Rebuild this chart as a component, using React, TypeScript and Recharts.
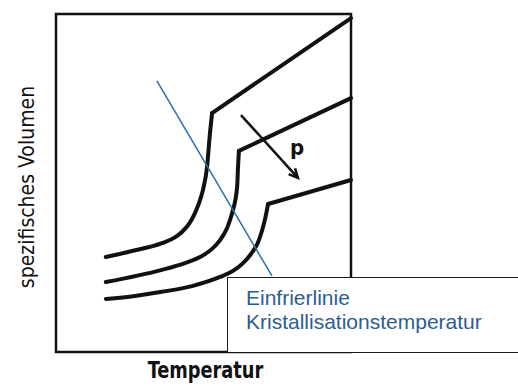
import { Line, LineChart, ReferenceArea, ReferenceDot, ReferenceLine, XAxis, YAxis } from "recharts"

// Temperatur (t) vs. spezifisches Volumen (v), both in arbitrary units 0..100
const upperCurve = [
  { t: 16.9, v: 28.1 },
  { t: 24.4, v: 29.6 },
  { t: 35.9, v: 32.2 },
  { t: 40.3, v: 33.9 },
  { t: 42.7, v: 35.5 },
  { t: 45.1, v: 37.9 },
  { t: 47.1, v: 41.1 },
  { t: 48.5, v: 44.1 },
  { t: 49.8, v: 47.9 },
  { t: 51.2, v: 54.7 },
  { t: 52.2, v: 64.8 },
  { t: 52.9, v: 70.7 },
]
const upperMelt = [
  { t: 52.9, v: 70.7 },
  { t: 100, v: 98.8 },
]

const middleCurve = [
  { t: 16.9, v: 20.7 },
  { t: 35.9, v: 24.3 },
  { t: 43.7, v: 26.3 },
  { t: 48.8, v: 28.1 },
  { t: 52.9, v: 30.5 },
  { t: 55.6, v: 33.1 },
  { t: 58.0, v: 36.7 },
  { t: 59.7, v: 41.1 },
  { t: 61.4, v: 48.8 },
  { t: 61.7, v: 54.7 },
  { t: 62.0, v: 59.5 },
]
const middleMelt = [
  { t: 62.0, v: 59.5 },
  { t: 100, v: 75.1 },
]

const lowerCurve = [
  { t: 16.9, v: 15.7 },
  { t: 26.8, v: 16.6 },
  { t: 35.9, v: 17.8 },
  { t: 46.1, v: 19.5 },
  { t: 55.6, v: 22.2 },
  { t: 60.0, v: 24.0 },
  { t: 63.4, v: 26.3 },
  { t: 66.1, v: 29.0 },
  { t: 68.5, v: 32.5 },
  { t: 69.8, v: 35.8 },
  { t: 70.8, v: 39.1 },
  { t: 71.9, v: 43.8 },
]
const lowerMelt = [
  { t: 71.9, v: 43.8 },
  { t: 100, v: 50.9 },
]

// Einfrierlinie (blue) and pressure arrow
const freezeLine = [
  { t: 34.2, v: 80.2 },
  { t: 73.2, v: 22.5 },
]
const pressureArrow = [
  { t: 62.7, v: 70.1 },
  { t: 82.0, v: 51.5 },
]
const pressureLabel = { t: 81.7, v: 60.7, text: "p" }

const legendLines = ["Einfrierlinie", "Kristallisationstemperatur"]

const ink = "#111"
const handFont = "'DejaVu Sans Condensed', 'DejaVu Sans', sans-serif"

function Arrow(props: any) {
  const { x1, y1, x2, y2 } = props
  const a = Math.atan2(y2 - y1, x2 - x1)
  const len = 10
  const w = 0.45
  const p1 = [x2 - len * Math.cos(a - w), y2 - len * Math.sin(a - w)]
  const p2 = [x2 - len * Math.cos(a + w), y2 - len * Math.sin(a + w)]
  return (
    <g>
      <line x1={x1} y1={y1} x2={x2} y2={y2} stroke={ink} strokeWidth={2.5} />
      <polyline
        points={`${p1[0]},${p1[1]} ${x2},${y2} ${p2[0]},${p2[1]}`}
        fill="none"
        stroke={ink}
        strokeWidth={2.5}
        strokeLinejoin="miter"
      />
    </g>
  )
}

function YLabel(props: any) {
  const { x, y, width, height } = props.viewBox
  const cx = x + width / 2 - 1
  const cy = y + height / 2 + 4
  return (
    <text
      x={cx}
      y={cy}
      transform={`rotate(-90 ${cx} ${cy})`}
      textAnchor="middle"
      dominantBaseline="central"
      fontFamily={handFont}
      fontSize={21}
      fill={ink}
    >
      spezifisches Volumen
    </text>
  )
}

function XLabel(props: any) {
  const { x, y, width } = props.viewBox
  // tall, narrow lettering like the stencil font of the drawing
  return (
    <text
      transform={`translate(${x + width / 2 + 2} ${y + 26}) scale(0.86 1)`}
      textAnchor="middle"
      fontFamily={handFont}
      fontWeight="bold"
      fontSize={23}
      fill={ink}
    >
      Temperatur
    </text>
  )
}

export default function App() {
  const curve = { stroke: ink, strokeWidth: 4, dot: false, isAnimationActive: false, strokeLinecap: "round" as const }
  return (
    <div style={{ position: "absolute", left: 0, top: 0, width: 518, height: 388, background: "#fff" }}>
      <LineChart width={518} height={388} margin={{ top: 14, right: 167, left: 0, bottom: 0 }}>
        <XAxis
          type="number"
          dataKey="t"
          domain={[0, 100]}
          tick={false}
          tickLine={false}
          axisLine={false}
          height={36}
          label={{ content: XLabel }}
        />
        <YAxis
          type="number"
          dataKey="v"
          domain={[0, 100]}
          tick={false}
          tickLine={false}
          axisLine={false}
          width={56}
          label={{ content: YLabel }}
        />
        <ReferenceArea x1={0} x2={100} y1={0} y2={100} fill="none" stroke={ink} strokeWidth={2.5} />
        <Line data={upperCurve} dataKey="v" type="monotone" {...curve} />
        <Line data={upperMelt} dataKey="v" type="linear" {...curve} />
        <Line data={middleCurve} dataKey="v" type="monotone" {...curve} />
        <Line data={middleMelt} dataKey="v" type="linear" {...curve} />
        <Line data={lowerCurve} dataKey="v" type="monotone" {...curve} />
        <Line data={lowerMelt} dataKey="v" type="linear" {...curve} />
        <ReferenceLine
          segment={freezeLine.map((p) => ({ x: p.t, y: p.v }))}
          stroke="#2E6DB4"
          strokeWidth={1.5}
        />
        <ReferenceLine segment={pressureArrow.map((p) => ({ x: p.t, y: p.v }))} shape={Arrow} />
        <ReferenceDot
          x={pressureLabel.t}
          y={pressureLabel.v}
          r={0}
          fill="none"
          stroke="none"
          label={{
            value: pressureLabel.text,
            position: "center",
            fontFamily: handFont,
            fontWeight: "bold",
            fontSize: 22,
            fill: ink,
          }}
        />
      </LineChart>
      <div
        style={{
          position: "absolute",
          left: 227,
          top: 277,
          width: 300,
          height: 66,
          border: "1.5px solid #1a1a1a",
          borderRight: "none",
          background: "#fff",
          boxSizing: "content-box",
          padding: "8px 0 0 18px",
          fontFamily: "'Liberation Sans', Arial, sans-serif",
          fontSize: 21,
          lineHeight: "24px",
          color: "#2E5C8F",
          margin: 0,
        }}
      >
        {legendLines.map((l) => (
          <div key={l}>{l}</div>
        ))}
      </div>
    </div>
  )
}
